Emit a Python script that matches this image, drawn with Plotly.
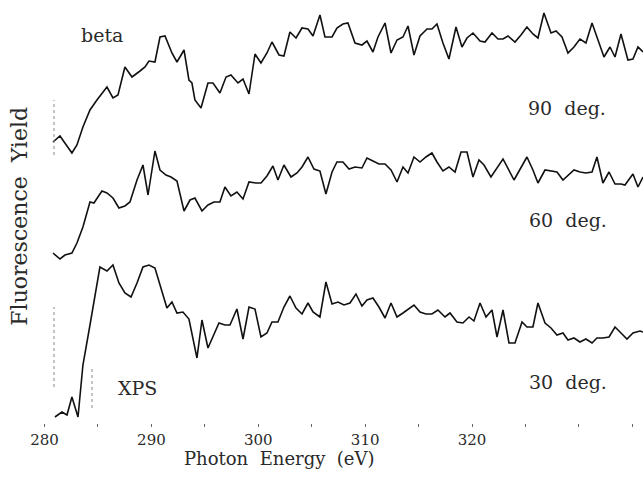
import plotly.graph_objects as go

# ---- data (photon energy in eV, yield in arbitrary units, curves offset) ----
e90 = [280.79, 281.44, 282.56, 283.03, 283.59, 284.25, 284.90, 285.84, 286.40, 286.87,
       287.52, 288.18, 288.93, 289.40, 289.77, 290.33, 290.80, 291.27, 291.92, 292.39,
       293.05, 293.51, 293.79, 294.07, 294.64, 295.29, 295.76, 296.41, 296.98, 297.44,
       298.10, 298.57, 299.13, 299.69, 300.25, 300.81, 301.28, 301.94, 302.40, 302.96,
       303.53, 304.09, 304.65, 305.12, 305.77, 306.24, 306.90, 307.36, 307.92, 308.39,
       309.05, 309.70, 310.17, 310.73, 311.20, 311.86, 312.42, 312.98, 313.54, 314.01,
       314.57, 315.13, 315.79, 316.25, 316.72, 317.28, 317.84, 318.50, 319.06, 319.53,
       320.09, 320.75, 321.21, 321.87, 322.43, 322.90, 323.37, 324.02, 324.58, 325.14,
       325.70, 326.17, 326.73, 327.39, 327.86, 328.42, 328.98, 329.54, 330.10, 330.66,
       331.23, 331.79, 332.35, 332.91, 333.38, 333.94, 334.59, 335.06, 335.53, 336.00]
y90 = [281, 287, 270, 278, 296, 313, 323, 336, 325, 328,
       356, 346, 352, 356, 362, 361, 386, 387, 370, 361,
       373, 343, 340, 323, 315, 340, 340, 330, 346, 348,
       340, 344, 329, 369, 360, 370, 381, 368, 367, 391,
       385, 395, 394, 387, 408, 386, 386, 395, 399, 400,
       380, 378, 382, 371, 386, 400, 370, 383, 386, 397,
       368, 387, 394, 394, 399, 380, 364, 396, 376, 385,
       390, 382, 381, 390, 384, 384, 387, 381, 388, 396,
       389, 385, 410, 390, 392, 386, 370, 376, 384, 380,
       400, 383, 366, 376, 366, 389, 363, 364, 376, 371]

e60 = [280.79, 281.44, 281.91, 282.56, 283.03, 283.59, 284.25, 284.62, 285.37, 285.84,
       286.40, 286.96, 287.52, 287.99, 288.65, 289.21, 289.68, 290.33, 290.80, 291.36,
       291.83, 292.39, 293.05, 293.61, 294.07, 294.73, 295.29, 295.85, 296.41, 296.88,
       297.44, 298.00, 298.57, 299.13, 299.78, 300.25, 300.81, 301.37, 301.84, 302.40,
       303.06, 303.62, 304.09, 304.65, 305.21, 305.77, 306.33, 306.90, 307.36, 307.92,
       308.49, 309.05, 309.70, 310.17, 310.73, 311.29, 311.86, 312.42, 312.98, 313.54,
       314.01, 314.57, 315.13, 315.69, 316.25, 316.72, 317.28, 317.84, 318.41, 318.97,
       319.53, 320.09, 320.65, 321.12, 321.77, 322.90, 323.93, 324.58, 325.14, 325.70,
       326.17, 326.83, 327.39, 327.95, 328.51, 329.54, 330.10, 330.66, 331.23, 331.69,
       332.25, 332.82, 333.38, 333.94, 334.31, 335.06, 335.53, 336.00]
y60 = [170, 164, 168, 170, 180, 196, 221, 220, 232, 230,
       225, 215, 217, 221, 243, 258, 228, 272, 253, 248,
       246, 242, 212, 223, 225, 212, 218, 221, 221, 236,
       227, 231, 224, 241, 240, 240, 247, 257, 243, 258,
       246, 250, 256, 266, 254, 252, 229, 251, 261, 261,
       254, 256, 255, 265, 262, 259, 259, 253, 241, 256,
       250, 266, 261, 266, 270, 261, 252, 256, 251, 271,
       271, 246, 263, 258, 246, 264, 243, 255, 266, 253,
       240, 253, 252, 251, 243, 253, 251, 250, 251, 266,
       240, 251, 239, 239, 238, 249, 236, 246]

e30 = [280.97, 281.63, 282.10, 282.56, 283.13, 283.59, 284.25, 284.72, 285.18, 285.84,
       286.40, 286.96, 287.52, 288.09, 288.65, 289.21, 289.77, 290.33, 290.89, 291.45,
       291.92, 292.39, 292.95, 293.51, 294.26, 294.73, 295.29, 295.76, 296.32, 296.88,
       297.35, 298.00, 298.57, 299.13, 299.69, 300.25, 300.81, 301.28, 301.84, 302.40,
       302.96, 303.53, 304.09, 304.65, 305.12, 305.77, 306.33, 306.90, 307.46, 308.02,
       308.58, 309.14, 309.70, 310.17, 310.73, 311.29, 311.86, 312.42, 312.98, 313.54,
       314.01, 314.57, 315.13, 315.69, 316.25, 316.81, 317.47, 317.94, 318.59, 319.15,
       319.72, 320.18, 320.75, 321.31, 321.87, 322.34, 322.90, 323.46, 324.02, 324.68,
       325.14, 325.70, 326.17, 326.83, 327.39, 327.95, 328.51, 328.98, 329.54, 330.10,
       330.66, 331.23, 331.69, 332.25, 332.82, 333.38, 333.94, 334.50, 335.06, 335.72,
       336.00]
y30 = [6, 11, 8, 26, 6, 58, 98, 126, 156, 152,
       158, 140, 130, 126, 140, 156, 158, 155, 135, 115,
       121, 110, 111, 104, 65, 103, 75, 86, 100, 98,
       98, 114, 84, 116, 114, 86, 90, 101, 101, 116,
       127, 115, 109, 120, 111, 106, 141, 119, 121, 118,
       120, 129, 117, 123, 125, 116, 105, 120, 106, 110,
       114, 118, 111, 109, 109, 113, 106, 110, 101, 100,
       106, 102, 120, 106, 113, 86, 113, 80, 80, 101,
       96, 96, 120, 100, 95, 88, 90, 83, 85, 81,
       84, 80, 85, 85, 86, 96, 90, 84, 90, 92,
       91]

# dotted reference marks: (energy, y from, y to)
marks = [(280.88, 268, 323), (280.88, 36, 116), (284.44, 15, 55)]

labels = ["beta", "90  deg.", "60  deg.", "30  deg.", "XPS"]
label_e = [285.37, 328.89, 329.0, 329.0, 288.65]
label_y = [388, 315, 203, 41, 35]

x_ticks = [280, 290, 300, 310, 320]

SERIF = "DejaVu Serif, Liberation Serif, serif"

fig = go.Figure()
for e, y in [(e90, y90), (e60, y60), (e30, y30)]:
    fig.add_trace(go.Scatter(x=e, y=y, mode="lines",
                             line=dict(color="#111111", width=1.6),
                             showlegend=False, hoverinfo="skip"))

for (xe, y0, y1) in marks:
    fig.add_shape(type="line", xref="x", yref="y", x0=xe, x1=xe, y0=y0, y1=y1,
                  line=dict(color="#888888", width=1, dash="dot"))

for t, xe, yv in zip(labels, label_e, label_y):
    fig.add_annotation(x=xe, y=yv, xref="x", yref="y", text=t, showarrow=False,
                       xanchor="center", yanchor="middle",
                       font=dict(family=SERIF, size=19, color="#2a2a2a"))

fig.add_annotation(x=0.031, y=0.49, xref="paper", yref="paper", text="Fluorescence  Yield",
                   showarrow=False, textangle=-90, xanchor="center", yanchor="middle",
                   font=dict(family=SERIF, size=22, color="#2a2a2a"))
fig.add_annotation(x=0.434, y=-0.085, xref="paper", yref="paper", text="Photon  Energy  (eV)",
                   showarrow=False, xanchor="center", yanchor="middle",
                   font=dict(family=SERIF, size=18, color="#2a2a2a"))

fig.update_layout(
    width=643, height=482,
    margin=dict(l=0, r=0, t=0, b=59),
    paper_bgcolor="white", plot_bgcolor="white",
    xaxis=dict(range=[275.83, 336.0], tickvals=x_ticks, ticktext=[str(v) for v in x_ticks],
               ticks="outside", ticklen=3, tickcolor="#666666", showgrid=False,
               zeroline=False, showline=False,
               minor=dict(dtick=5, tick0=280, ticks="outside", ticklen=3, tickcolor="#666666"),
               tickfont=dict(family=SERIF, size=15, color="#2a2a2a")),
    yaxis=dict(range=[0, 423], visible=False),
)

fig.write_html("out.html")
